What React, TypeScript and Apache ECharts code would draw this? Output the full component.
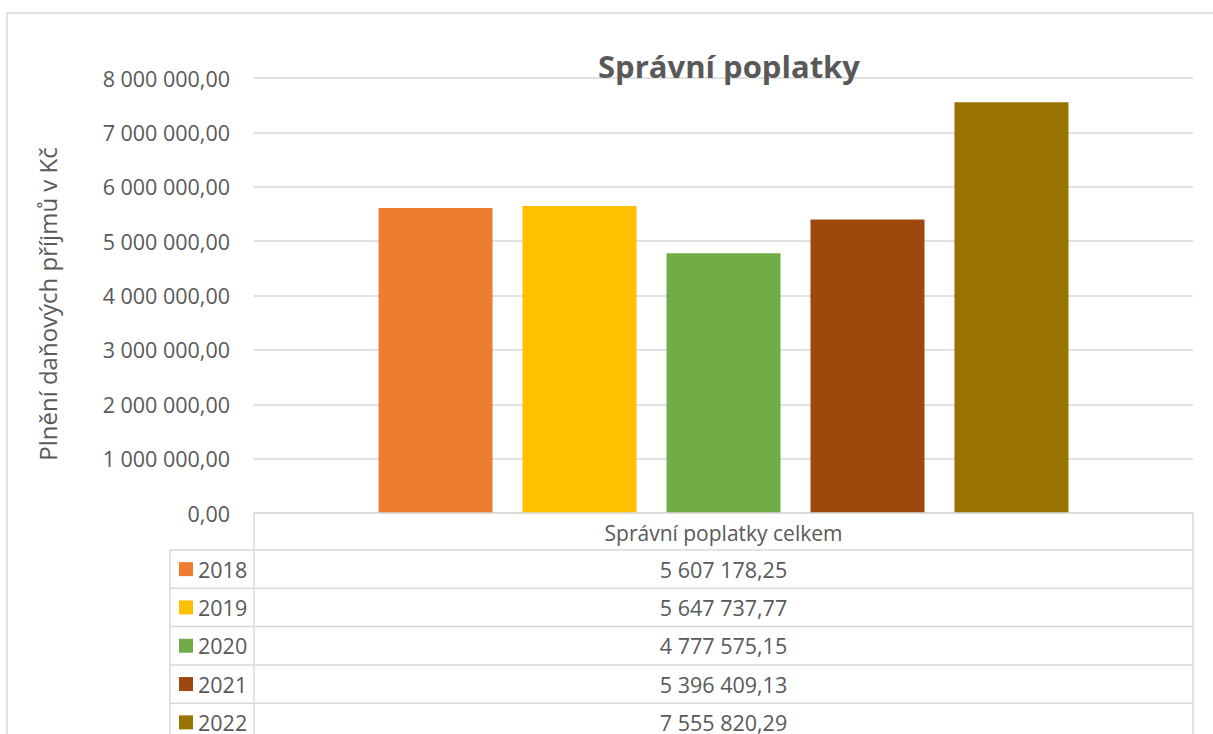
import React, { useEffect, useRef } from "react";
import * as echarts from "echarts";

const chartTitle = "Správní poplatky";
const yAxisTitle = "Plnění daňových příjmů v Kč";
const categoryLabel = "Správní poplatky celkem";
const years = ["2018", "2019", "2020", "2021", "2022"];
const values = [5607178.25, 5647737.77, 4777575.15, 5396409.13, 7555820.29];
const colors = ["#ED7D31", "#FFC000", "#70AD47", "#9E480E", "#997300"];
const yMin = 0;
const yMax = 8000000;
const yInterval = 1000000;

function fmt(v: number): string {
  const s = v.toFixed(2);
  const [ip, dp] = s.split(".");
  const g = ip.replace(/\B(?=(\d{3})+(?!\d))/g, " ");
  return g + "," + dp;
}

const W = 1213;
const H = 734;
const PL = 254;
const PR = 1193;
const PT = 78;
const PB = 513;
const HEADER_H = 37;
const ROW_H = 38.3;
const LEG_L = 170;
const LINE = "#d9d9d9";
const TXT = "#595959";
const FONT = "'Open Sans', sans-serif";
const FS = 21.5;

export default function App() {
  const ref = useRef<HTMLDivElement>(null);
  useEffect(() => {
    if (!ref.current) return;
    const chart = echarts.init(ref.current, undefined, { renderer: "svg" });
    const graphics: any[] = [];
    // outer border
    graphics.push({
      type: "rect",
      shape: { x: 7, y: 13, width: 1300, height: 800 },
      style: { fill: "none", stroke: LINE, lineWidth: 1.5 },
      silent: true,
      z: 0,
    });
    // title
    graphics.push({
      type: "text",
      x: 729,
      y: 66,
      style: {
        text: chartTitle,
        fill: TXT,
        fontSize: 31,
        fontWeight: "bold",
        fontFamily: FONT,
        textAlign: "center",
        textVerticalAlign: "middle",
      },
      z: 10,
    });
    // y axis title
    graphics.push({
      type: "text",
      x: 47,
      y: 304,
      rotation: Math.PI / 2,
      style: {
        text: yAxisTitle,
        fill: TXT,
        fontSize: 24,
        fontFamily: FONT,
        textAlign: "center",
        textVerticalAlign: "middle",
      },
    });
    // table lines
    const lineStyle = { stroke: LINE, lineWidth: 1.5 };
    graphics.push({ type: "line", shape: { x1: PL, y1: PB, x2: PR, y2: PB }, style: lineStyle, z: 5 });
    graphics.push({ type: "line", shape: { x1: PL, y1: PB, x2: PL, y2: H + 10 }, style: lineStyle, z: 5 });
    graphics.push({ type: "line", shape: { x1: PR, y1: PB, x2: PR, y2: H + 10 }, style: lineStyle, z: 5 });
    graphics.push({ type: "line", shape: { x1: LEG_L, y1: PB + HEADER_H, x2: LEG_L, y2: H + 10 }, style: lineStyle, z: 5 });
    for (let i = 0; i < years.length; i++) {
      const y = PB + HEADER_H + i * ROW_H;
      graphics.push({ type: "line", shape: { x1: LEG_L, y1: y, x2: PR, y2: y }, style: lineStyle, z: 5 });
    }
    // header text
    graphics.push({
      type: "text",
      x: (PL + PR) / 2,
      y: PB + HEADER_H / 2 + 1,
      style: {
        text: categoryLabel,
        fill: TXT,
        fontSize: 21,
        fontFamily: FONT,
        textAlign: "center",
        textVerticalAlign: "middle",
      },
    });
    years.forEach((yr, i) => {
      const cy = PB + HEADER_H + i * ROW_H + ROW_H / 2;
      graphics.push({
        type: "rect",
        shape: { x: 179, y: cy - 7, width: 14, height: 14 },
        style: { fill: colors[i] },
      });
      graphics.push({
        type: "text",
        x: 198,
        y: cy,
        style: {
          text: yr,
          fill: TXT,
          fontSize: FS,
          fontFamily: FONT,
          textAlign: "left",
          textVerticalAlign: "middle",
        },
      });
      graphics.push({
        type: "text",
        x: (PL + PR) / 2,
        y: cy,
        style: {
          text: fmt(values[i]),
          fill: TXT,
          fontSize: FS,
          fontFamily: FONT,
          textAlign: "center",
          textVerticalAlign: "middle",
        },
      });
    });

    chart.setOption({
      animation: false,
      backgroundColor: "#ffffff",
      textStyle: { fontFamily: FONT },
      grid: { left: PL, right: W - PR, top: PT, bottom: H - PB, containLabel: false },
      xAxis: {
        type: "category",
        data: [categoryLabel],
        axisLine: { show: false },
        axisTick: { show: false },
        axisLabel: { show: false },
        splitLine: { show: false },
      },
      yAxis: {
        type: "value",
        min: yMin,
        max: yMax,
        interval: yInterval,
        axisLine: { show: false },
        axisTick: { show: false },
        axisLabel: {
          color: TXT,
          fontSize: FS,
          fontFamily: FONT,
          margin: 24,
          formatter: (v: number) => fmt(v),
        },
        splitLine: { lineStyle: { color: LINE, width: 1.5 } },
      },
      series: years.map((yr, i) => ({
        type: "bar",
        name: yr,
        data: [values[i]],
        barWidth: 114,
        barGap: "26.3%",
        itemStyle: { color: colors[i] },
        z: 2,
      })),
      graphic: graphics,
    });
    return () => chart.dispose();
  }, []);
  return (
    <div
      ref={ref}
      style={{ position: "absolute", left: 0, top: 0, width: W, height: H }}
    />
  );
}
